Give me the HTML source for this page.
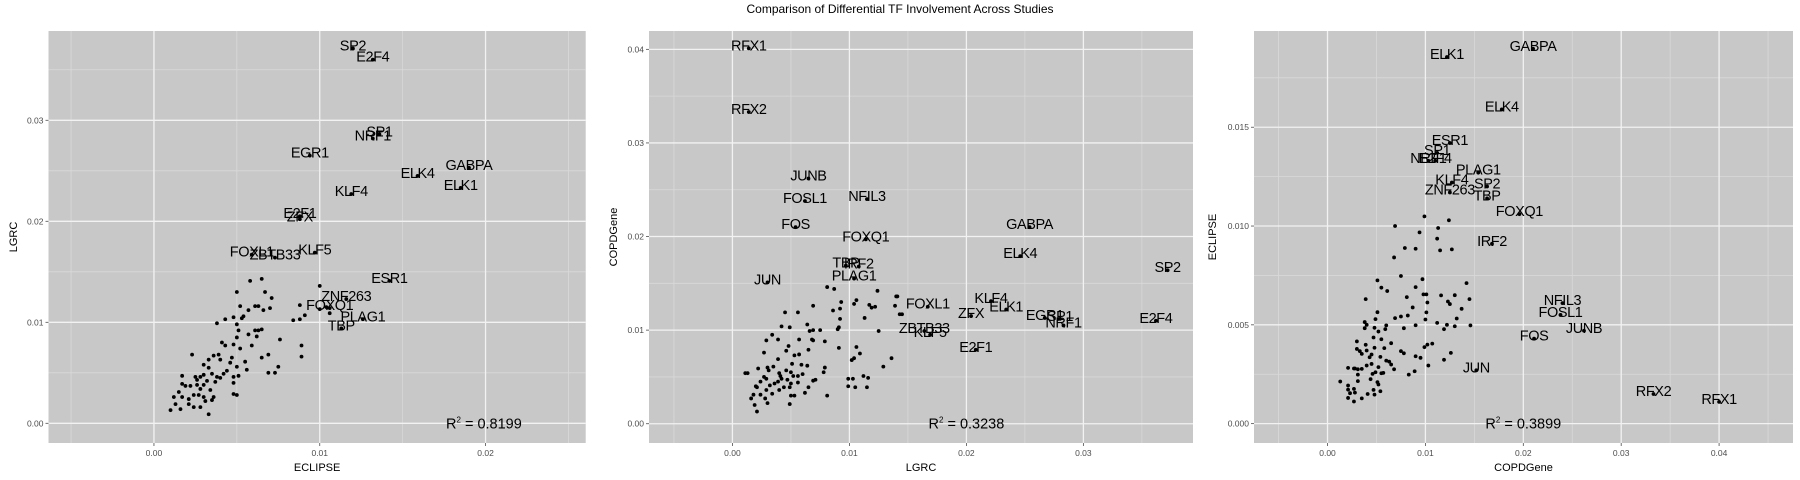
<!DOCTYPE html>
<html><head><meta charset="utf-8"><style>
html,body{margin:0;padding:0;background:#fff;}
svg{display:block;font-family:"Liberation Sans",sans-serif;}
</style></head><body>
<svg id="chart" width="1800" height="480" viewBox="0 0 1800 480" xmlns="http://www.w3.org/2000/svg">
<text x="900" y="13" text-anchor="middle" font-size="12" fill="#000">Comparison of Differential TF Involvement Across Studies</text>
</svg>
<script>
// ---------- Panel 1: ECLIPSE (x) vs LGRC (y) ----------
const p1Names=["SP2","E2F4","SP1","NRF1","EGR1","GABPA","ELK4","ELK1","KLF4","E2F1","ZFX","FOXL1","ZBTB33","KLF5","ESR1","ZNF263","FOXQ1","PLAG1","TBP"];
const p1LabX=[0.0120,0.0132,0.0136,0.0132,0.0094,0.0190,0.0159,0.0185,0.0119,0.0088,0.0088,0.0059,0.0073,0.0097,0.0142,0.0116,0.0106,0.0126,0.0113];
const p1LabY=[0.0371,0.0360,0.0286,0.0282,0.0265,0.0253,0.0245,0.0233,0.0227,0.0205,0.0202,0.0167,0.0164,0.0169,0.0141,0.0123,0.0114,0.0103,0.0094];
const p1DotX=[0.0058,0.0065,0.0050,0.0067,0.0071,0.0052,0.0057,0.0061,0.0063,0.0066,0.0070,0.0088,0.0100,0.0054,0.0053,0.0048,0.0043,0.0038,0.0050,0.0051,0.0057,0.0061,0.0063,0.0065,0.0062,0.0076,0.0084,0.0088,0.0091,0.0100,0.0050,0.0041,0.0043,0.0048,0.0052,0.0059,0.0089,0.0089,0.0069,0.0065,0.0023,0.0030,0.0033,0.0036,0.0039,0.0040,0.0047,0.0046,0.0050,0.0055,0.0056,0.0075,0.0069,0.0073,0.0051,0.0048,0.0048,0.0048,0.0050,0.0044,0.0042,0.0038,0.0035,0.0033,0.0030,0.0028,0.0025,0.0017,0.0017,0.0019,0.0022,0.0026,0.0030,0.0034,0.0036,0.0032,0.0028,0.0024,0.0027,0.0021,0.0017,0.0015,0.0012,0.0013,0.0016,0.0010,0.0021,0.0024,0.0028,0.0031,0.0033,0.0035,0.0030,0.0026,0.0037,0.0040,0.0106,0.0104];
const p1DotY=[0.0141,0.0143,0.0130,0.0130,0.0124,0.0116,0.0112,0.0116,0.0116,0.0112,0.0114,0.0117,0.0136,0.0106,0.0104,0.0105,0.0103,0.0099,0.0098,0.0092,0.0088,0.0092,0.0092,0.0093,0.0086,0.0083,0.0102,0.0103,0.0107,0.0113,0.0085,0.0080,0.0077,0.0078,0.0074,0.0077,0.0077,0.0066,0.0068,0.0065,0.0068,0.0058,0.0063,0.0067,0.0068,0.0063,0.0065,0.0060,0.0056,0.0061,0.0053,0.0056,0.0050,0.0050,0.0047,0.0046,0.0040,0.0029,0.0028,0.0052,0.0049,0.0046,0.0049,0.0055,0.0048,0.0046,0.0046,0.0047,0.0039,0.0037,0.0037,0.0038,0.0038,0.0033,0.0026,0.0042,0.0034,0.0028,0.0028,0.0024,0.0026,0.0031,0.0026,0.0019,0.0014,0.0013,0.0019,0.0016,0.0016,0.0022,0.0009,0.0023,0.0026,0.0043,0.0041,0.0045,0.0109,0.0115];
const p1XTicks=[0,0.01,0.02];
const p1XTickLabels=["0.00","0.01","0.02"];
const p1YTicks=[0,0.01,0.02,0.03];
const p1YTickLabels=["0.00","0.01","0.02","0.03"];
const p1XMinor=[-0.005,0.005,0.015,0.025];
const p1YMinor=[0.005,0.015,0.025,0.035];
const p1R2="0.8199";

// ---------- Panel 2: LGRC (x) vs COPDGene (y) ----------
const p2Names=["RFX1","RFX2","JUNB","FOSL1","NFIL3","FOS","FOXQ1","IRF2","TBP","PLAG1","JUN","GABPA","ELK4","SP2","FOXL1","ZFX","KLF4","ELK1","EGR1","SP1","NRF1","E2F4","ZBTB33","KLF5","E2F1"];
const p2LabX=[0.0014,0.0014,0.0065,0.0062,0.0115,0.0054,0.0114,0.0108,0.0097,0.0104,0.0030,0.0254,0.0246,0.0372,0.0167,0.0204,0.0221,0.0234,0.0267,0.0280,0.0283,0.0362,0.0164,0.0169,0.0208];
const p2LabY=[0.0401,0.0333,0.0262,0.0238,0.0240,0.0210,0.0197,0.0168,0.0169,0.0155,0.0151,0.0210,0.0179,0.0164,0.0125,0.0115,0.0131,0.0122,0.0113,0.0112,0.0105,0.0110,0.0099,0.0095,0.0079];
const p2DotX=[0.0081,0.0087,0.0124,0.0140,0.0139,0.0143,0.0093,0.0106,0.0104,0.0117,0.0119,0.0122,0.0086,0.0092,0.0069,0.0056,0.0045,0.0113,0.0092,0.0064,0.0042,0.0049,0.0066,0.0069,0.0075,0.0090,0.0091,0.0125,0.0034,0.0029,0.0039,0.0057,0.0068,0.0069,0.0079,0.0091,0.0106,0.0109,0.0104,0.0102,0.0136,0.0129,0.0048,0.0046,0.0053,0.0057,0.0065,0.0027,0.0039,0.0051,0.0059,0.0064,0.0079,0.0078,0.0035,0.0030,0.0031,0.0022,0.0011,0.0013,0.0040,0.0041,0.0046,0.0050,0.0052,0.0056,0.0060,0.0029,0.0027,0.0024,0.0021,0.0020,0.0032,0.0036,0.0039,0.0042,0.0047,0.0050,0.0056,0.0069,0.0071,0.0099,0.0103,0.0112,0.0116,0.0099,0.0105,0.0115,0.0065,0.0062,0.0049,0.0044,0.0040,0.0034,0.0029,0.0024,0.0018,0.0016,0.0028,0.0030,0.0019,0.0021,0.0050,0.0053,0.0049,0.0081,0.0145,0.0141];
const p2DotY=[0.0146,0.0144,0.0142,0.0136,0.0126,0.0117,0.0130,0.0132,0.0128,0.0127,0.0124,0.0125,0.0121,0.0123,0.0126,0.0119,0.0119,0.0113,0.0112,0.0106,0.0104,0.0103,0.0099,0.0100,0.0100,0.0101,0.0103,0.0099,0.0095,0.0089,0.0090,0.0090,0.0090,0.0089,0.0088,0.0081,0.0082,0.0075,0.0070,0.0068,0.0070,0.0061,0.0083,0.0078,0.0073,0.0074,0.0079,0.0076,0.0069,0.0064,0.0063,0.0062,0.0060,0.0055,0.0061,0.0060,0.0057,0.0059,0.0054,0.0054,0.0054,0.0051,0.0057,0.0055,0.0051,0.0051,0.0053,0.0048,0.0050,0.0045,0.0039,0.0040,0.0041,0.0043,0.0045,0.0048,0.0047,0.0043,0.0044,0.0046,0.0047,0.0048,0.0048,0.0051,0.0049,0.0040,0.0039,0.0039,0.0039,0.0033,0.0039,0.0039,0.0036,0.0032,0.0036,0.0031,0.0031,0.0027,0.0027,0.0022,0.0020,0.0013,0.0030,0.0030,0.0021,0.0030,0.0117,0.0136];
const p2XTicks=[0,0.01,0.02,0.03];
const p2XTickLabels=["0.00","0.01","0.02","0.03"];
const p2YTicks=[0,0.01,0.02,0.03,0.04];
const p2YTickLabels=["0.00","0.01","0.02","0.03","0.04"];
const p2XMinor=[-0.005,0.005,0.015,0.025,0.035];
const p2YMinor=[0.005,0.015,0.025,0.035];
const p2R2="0.3238";

// ---------- Panel 3: COPDGene (x) vs ECLIPSE (y) ----------
const p3Names=["GABPA","ELK1","ELK4","ESR1","SP1","NRF1","E2F4","PLAG1","KLF4","SP2","ZNF263","TBP","FOXQ1","IRF2","NFIL3","FOSL1","JUNB","FOS","JUN","RFX2","RFX1"];
const p3LabX=[0.0210,0.0122,0.0178,0.0125,0.0112,0.0103,0.0110,0.0154,0.0127,0.0163,0.0125,0.0163,0.0196,0.0168,0.0240,0.0238,0.0262,0.0211,0.0152,0.0333,0.0400];
const p3LabY=[0.01897,0.01855,0.0159,0.0142,0.0137,0.0133,0.0133,0.0127,0.0122,0.0120,0.0117,0.0114,0.0106,0.0091,0.0061,0.0055,0.0047,0.0043,0.0027,0.0015,0.0011];
const p3DotX=[0.0099,0.0124,0.0069,0.0113,0.0094,0.0112,0.0127,0.0115,0.0090,0.0079,0.0068,0.0075,0.0097,0.0051,0.0055,0.0061,0.0090,0.0142,0.0039,0.0081,0.0098,0.0101,0.0102,0.0116,0.0123,0.0125,0.0130,0.0145,0.0137,0.0087,0.0051,0.0049,0.0069,0.0075,0.0082,0.0101,0.0100,0.0112,0.0122,0.0130,0.0119,0.0132,0.0146,0.0038,0.0040,0.0038,0.0048,0.0052,0.0060,0.0059,0.0078,0.0090,0.0047,0.0055,0.0065,0.0030,0.0039,0.0030,0.0033,0.0035,0.0040,0.0045,0.0043,0.0048,0.0058,0.0075,0.0078,0.0090,0.0095,0.0099,0.0102,0.0107,0.0126,0.0119,0.0103,0.0054,0.0060,0.0063,0.0065,0.0068,0.0052,0.0049,0.0046,0.0044,0.0051,0.0055,0.0057,0.0083,0.0089,0.0021,0.0027,0.0028,0.0031,0.0035,0.0040,0.0045,0.0031,0.0031,0.0013,0.0021,0.0027,0.0021,0.0023,0.0028,0.0021,0.0027,0.0035,0.0041,0.0047,0.0054,0.0048,0.0052];
const p3DotY=[0.01049,0.01029,0.0100,0.0099,0.00968,0.00936,0.00882,0.00877,0.00885,0.00889,0.00841,0.00747,0.00731,0.00725,0.00688,0.00671,0.00691,0.00711,0.0063,0.0064,0.00654,0.00654,0.00613,0.00649,0.00618,0.00605,0.0065,0.0063,0.00581,0.00588,0.00564,0.00529,0.00534,0.00542,0.00547,0.00563,0.00527,0.0051,0.0050,0.00493,0.00478,0.00532,0.00497,0.00514,0.0050,0.00483,0.00485,0.00466,0.00497,0.00478,0.00483,0.00498,0.00436,0.00427,0.00407,0.00416,0.00399,0.00378,0.00367,0.00353,0.0037,0.0035,0.00336,0.00384,0.00382,0.00367,0.00356,0.00341,0.00333,0.00387,0.0040,0.00405,0.00358,0.00323,0.00294,0.00338,0.00319,0.00314,0.00299,0.00275,0.00286,0.0026,0.00252,0.00225,0.0021,0.00255,0.00257,0.00248,0.00265,0.00282,0.00279,0.00279,0.00275,0.00277,0.00294,0.00302,0.00248,0.00215,0.00213,0.00193,0.00176,0.00172,0.00154,0.00157,0.0013,0.00112,0.00128,0.0015,0.00171,0.00164,0.00147,0.00198];
const p3XTicks=[0,0.01,0.02,0.03,0.04];
const p3XTickLabels=["0.00","0.01","0.02","0.03","0.04"];
const p3YTicks=[0,0.005,0.01,0.015];
const p3YTickLabels=["0.000","0.005","0.010","0.015"];
const p3XMinor=[-0.005,0.005,0.015,0.025,0.035,0.045];
const p3YMinor=[0.0025,0.0075,0.0125,0.0175];
const p3R2="0.3899";

const NS="http://www.w3.org/2000/svg";
const svg=document.getElementById('chart');
function mk(tag,attrs,parent){const e=document.createElementNS(NS,tag);for(const k in attrs)e.setAttribute(k,attrs[k]);(parent||svg).appendChild(e);return e;}
function linear(d0,d1,r0,r1){return v=>r0+(v-d0)/(d1-d0)*(r1-r0);}

function panel(cfg){
  const g=mk('g',{});
  
  
  const X=linear(cfg.xd[0],cfg.xd[1],cfg.L,cfg.R);
  const Y=linear(cfg.yd[0],cfg.yd[1],cfg.B,cfg.T);
  const bg=mk('rect',{x:cfg.L,y:cfg.T,width:cfg.R-cfg.L,height:cfg.B-cfg.T,fill:'#c8c8c8'},g);
  
  
  cfg.xMinor.forEach(v=>{const l=mk('line',{x1:X(v),x2:X(v),y1:cfg.T,y2:cfg.B,stroke:'#d9d9d9','stroke-width':0.8},g);
    
    });
  cfg.yMinor.forEach(v=>{const l=mk('line',{x1:cfg.L,x2:cfg.R,y1:Y(v),y2:Y(v),stroke:'#d9d9d9','stroke-width':0.8},g);
    
    });
  cfg.xTicks.forEach((v,i)=>{
    const l=mk('line',{x1:X(v),x2:X(v),y1:cfg.T,y2:cfg.B,stroke:'#f2f2f2','stroke-width':1.3},g);
    
    
    const tk=mk('line',{x1:X(v),x2:X(v),y1:cfg.B,y2:cfg.B+3,stroke:'#4d4d4d','stroke-width':0.8},g);
    
    
    const t=mk('text',{x:X(v),y:cfg.B+13,'text-anchor':'middle','font-size':8.5,fill:'#4d4d4d'},g);
    
    
    t.textContent=cfg.xLab[i];});
  cfg.yTicks.forEach((v,i)=>{
    const l=mk('line',{x1:cfg.L,x2:cfg.R,y1:Y(v),y2:Y(v),stroke:'#f2f2f2','stroke-width':1.3},g);
    
    
    const tk=mk('line',{x1:cfg.L-3,x2:cfg.L,y1:Y(v),y2:Y(v),stroke:'#4d4d4d','stroke-width':0.8},g);
    
    
    const t=mk('text',{x:cfg.L-5,y:Y(v)+3,'text-anchor':'end','font-size':8.5,fill:'#4d4d4d'},g);
    
    
    t.textContent=cfg.yLab[i];});
  cfg.dx.forEach((v,i)=>{const c=mk('circle',{cx:X(v),cy:Y(cfg.dy[i]),r:1.9,fill:'#000'},g);
    
    });
  cfg.names.forEach((n,i)=>{
    const c=mk('circle',{cx:X(cfg.lx[i]),cy:Y(cfg.ly[i]),r:1.9,fill:'#000'},g);
    
    
    const t=mk('text',{x:X(cfg.lx[i]),y:Y(cfg.ly[i])+2,'text-anchor':'middle','font-size':14.5,fill:'#000','letter-spacing':'-0.4'},g);
    
    
    t.textContent=n;});
  const r=mk('text',{x:X(cfg.r2x),y:Y(0)+5,'text-anchor':'middle','font-size':14.5,fill:'#000'},g);
  
  
  r.innerHTML='R<tspan dy="-6" font-size="8">2</tspan><tspan dy="6"> = '+cfg.r2+'</tspan>';
  const xt=mk('text',{x:(cfg.L+cfg.R)/2,y:471,'text-anchor':'middle','font-size':11,fill:'#000'},g);
  
  
  xt.textContent=cfg.xTitle;
  const cy=(cfg.T+cfg.B)/2;
  const yt=mk('text',{x:cfg.ytx,y:cy,'text-anchor':'middle','font-size':11,fill:'#000',transform:'rotate(-90 '+cfg.ytx+' '+cy+')'},g);
  
  
  yt.textContent=cfg.yTitle;
}

panel({id:'eclipse-vs-lgrc',L:48.5,R:585.7,T:31,B:443,xd:[-0.00636,0.02604],yd:[-0.00195,0.03884],
  xTicks:p1XTicks,xLab:p1XTickLabels,yTicks:p1YTicks,yLab:p1YTickLabels,xMinor:p1XMinor,yMinor:p1YMinor,
  dx:p1DotX,dy:p1DotY,names:p1Names,lx:p1LabX,ly:p1LabY,r2:p1R2,r2x:0.0199,xTitle:'ECLIPSE',yTitle:'LGRC',ytx:17});
panel({id:'lgrc-vs-copdgene',L:649,R:1193,T:31,B:443,xd:[-0.00713,0.03937],yd:[-0.00206,0.04196],
  xTicks:p2XTicks,xLab:p2XTickLabels,yTicks:p2YTicks,yLab:p2YTickLabels,xMinor:p2XMinor,yMinor:p2YMinor,
  dx:p2DotX,dy:p2DotY,names:p2Names,lx:p2LabX,ly:p2LabY,r2:p2R2,r2x:0.0200,xTitle:'LGRC',yTitle:'COPDGene',ytx:617});
panel({id:'copdgene-vs-eclipse',L:1254,R:1793,T:31,B:443,xd:[-0.00751,0.04755],yd:[-0.00098,0.01987],
  xTicks:p3XTicks,xLab:p3XTickLabels,yTicks:p3YTicks,yLab:p3YTickLabels,xMinor:p3XMinor,yMinor:p3YMinor,
  dx:p3DotX,dy:p3DotY,names:p3Names,lx:p3LabX,ly:p3LabY,r2:p3R2,r2x:0.0200,xTitle:'COPDGene',yTitle:'ECLIPSE',ytx:1216});
</script>
</body></html>
